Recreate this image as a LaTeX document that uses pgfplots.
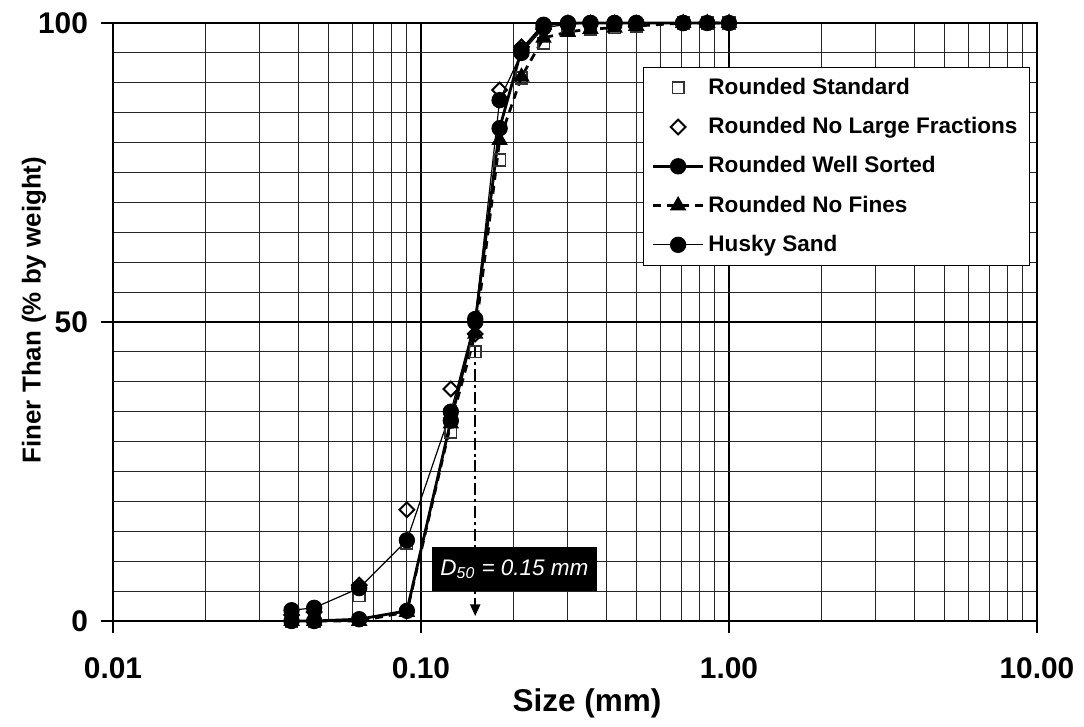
\documentclass[border=0pt]{standalone}
\usepackage{pgfplots}
\pgfplotsset{compat=1.18}
\usepackage{fontspec}
\setmainfont{Liberation Sans}
\usetikzlibrary{arrows.meta}

\begin{document}
\begin{tikzpicture}
\begin{axis}[
  scale only axis,
  width=462bp, height=299bp,
  xmode=log, log basis x=10,
  xmin=0.01, xmax=10,
  ymin=0, ymax=100,
  xtick={0.01,0.1,1,10},
  xticklabels={0.01,0.10,1.00,10.00},
  minor xtick={0.02,0.03,0.04,0.05,0.06,0.07,0.08,0.09,
               0.2,0.3,0.4,0.5,0.6,0.7,0.8,0.9,
               2,3,4,5,6,7,8,9},
  ytick={0,50,100},
  minor y tick num=9,
  xtick pos=bottom, ytick pos=left,
  grid=both,
  major grid style={black, line width=0.55pt},
  minor grid style={black!85, line width=0.45pt},
  tick align=outside,
  major tick length=6bp,
  minor tick length=0pt,
  tick style={black, line width=0.8pt},
  axis line style={line width=1.1pt},
  tick label style={font=\fontsize{15}{17}\selectfont\bfseries},
  xticklabel style={yshift=-9bp},
  yticklabel style={xshift=-3bp},
  /pgf/number format/assume math mode=true,
  xlabel={Size (mm)},
  ylabel={Finer Than (\% by weight)},
  xlabel style={font=\fontsize{15.8}{18}\selectfont\bfseries,
    at={(axis description cs:0.513,-0.152)}, anchor=base},
  ylabel style={font=\fontsize{13}{15}\selectfont\bfseries,
    at={(axis description cs:-0.0855,0.52)}, anchor=center},
  legend image code/.code={
    \draw[mark repeat=2,mark phase=2] plot coordinates {(0bp,0bp) (12.5bp,0bp) (25bp,0bp)};},
  legend style={at={(0.9924,0.9264)}, anchor=north east, draw=black, line width=0.5pt,
    fill=white, font=\fontsize{11.3}{13}\selectfont\bfseries, row sep=6bp,
    inner xsep=4bp, inner ysep=3.3bp},
  legend cell align=left,
  clip=false,
]
% Rounded Standard
\addplot[only marks, mark=square, mark size=2.9pt, mark options={draw=black!80, line width=0.8pt, fill=white}]
coordinates {(0.038,0) (0.045,0) (0.063,4.2) (0.09,13) (0.125,31.6) (0.15,45) (0.18,77.1)
  (0.212,90.8) (0.25,96.6) (0.3,98.8) (0.355,99) (0.425,99.2) (0.5,99.5) (0.71,100) (0.85,100) (1.0,100)};
\addlegendentry{Rounded Standard}
% Rounded No Large Fractions
\addplot[only marks, mark=square, mark size=2.6pt, mark options={rotate=45, draw=black, line width=1pt, fill=white}]
coordinates {(0.038,1) (0.045,1.5) (0.063,6) (0.09,18.6) (0.125,38.8) (0.15,48)
  (0.18,88.8) (0.212,96) (0.25,99) (0.3,100) (0.355,100) (0.425,100) (0.5,100)};
\addlegendentry{Rounded No Large Fractions}
% Rounded Well Sorted
\addplot[black, line width=1.4pt, mark=*, mark size=3.4pt, mark options={solid, fill=black}]
coordinates {(0.038,0) (0.045,0) (0.063,0.3) (0.09,1.7) (0.125,33.5) (0.15,50) (0.18,82.4)
  (0.212,95.5) (0.25,99.7) (0.3,100) (0.355,100) (0.425,100) (0.5,100) (0.71,100) (0.85,100) (1.0,100)};
\addlegendentry{Rounded Well Sorted}
% Rounded No Fines
\addplot[black, line width=1.4pt, dash pattern=on 4pt off 3pt, mark=triangle*, mark size=3.4pt, mark options={solid, fill=black}]
coordinates {(0.038,0) (0.045,0) (0.063,0) (0.09,1.5) (0.125,33) (0.15,48) (0.18,80.4)
  (0.212,91) (0.25,97.5) (0.3,98.5) (0.355,99) (0.425,99.2) (0.5,99.5) (0.71,100) (0.85,100) (1.0,100)};
\addlegendentry{Rounded No Fines}
% Husky Sand
\addplot[black, line width=0.6pt, mark=*, mark size=3.8pt, mark options={solid, fill=black}]
coordinates {(0.038,1.8) (0.045,2.2) (0.063,5.5) (0.09,13.5) (0.125,35) (0.15,50.5) (0.18,87.1)
  (0.212,95) (0.25,99.2) (0.3,99.8) (0.355,100) (0.425,100) (0.5,100) (0.71,100)};
\addlegendentry{Husky Sand}

\draw[black, line width=1.2pt, dash pattern=on 6pt off 2pt on 1.5pt off 2pt, -{Triangle[length=6pt,width=5pt]}]
  (axis cs:0.15,46) -- (axis cs:0.15,0.8);
\node[fill=black, text=white, font=\fontsize{11.3}{13}\selectfont\itshape,
  minimum width=82.5bp, minimum height=22bp, inner sep=2bp]
  at (axis cs:0.2012,8.7) {D\textsubscript{50} = 0.15 mm};
% page margins as in the reference
\path (rel axis cs:-0.1223,-0.1756) rectangle (rel axis cs:1.0509,1.0385);
\end{axis}
\end{tikzpicture}
\end{document}
